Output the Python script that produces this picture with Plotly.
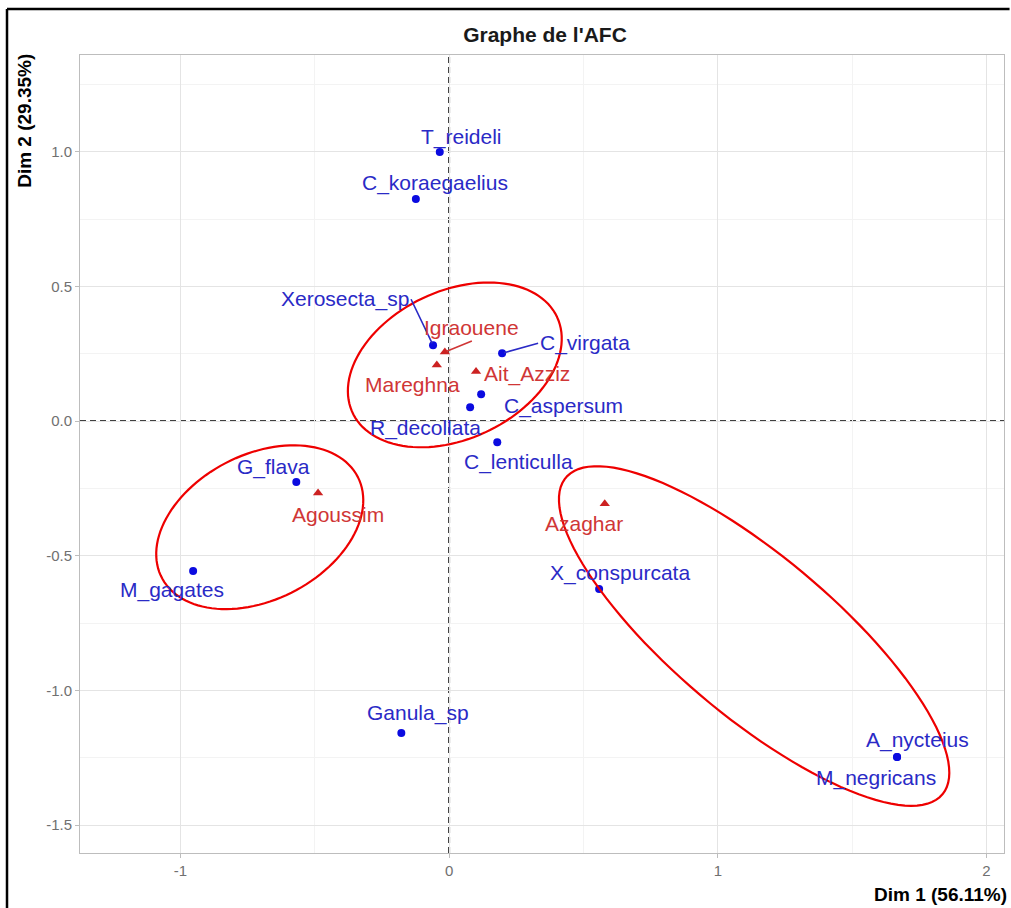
import numpy as np
import plotly.graph_objects as go

# ---------------- data ----------------
species = ["T_reideli", "C_koraegaelius", "Xerosecta_sp", "C_virgata", "C_aspersum",
           "R_decollata", "C_lenticulla", "G_flava", "M_gagates", "X_conspurcata",
           "Ganula_sp", "A_nycteius", "M_negricans"]
species_dim1 = [-0.035, -0.124, -0.060, 0.197, 0.119, 0.078, 0.179, -0.569, -0.953, 0.558,
                -0.178, 1.667, 1.667]
species_dim2 = [1.000, 0.825, 0.282, 0.252, 0.100, 0.052, -0.078, -0.226, -0.557, -0.623,
                -1.158, -1.247, -1.247]

sites = ["Igraouene", "Mareghna", "Ait_Azziz", "Agoussim", "Azaghar"]
site_dim1 = [-0.016, -0.046, 0.100, -0.488, 0.579]
site_dim2 = [0.257, 0.209, 0.184, -0.267, -0.307]

x_ticks = [-1, 0, 1, 2]
x_ticklabels = ["-1", "0", "1", "2"]
y_ticks = [-1.5, -1.0, -0.5, 0.0, 0.5, 1.0]
y_ticklabels = ["-1.5", "-1.0", "-0.5", "0.0", "0.5", "1.0"]

title_text = "Graphe de l'AFC"
xlab = "Dim 1 (56.11%)"
ylab = "Dim 2 (29.35%)"

# hand-drawn grouping ellipses (centre, semi-axes, tilt in degrees)
ellipse_cx = [0.021, -0.705, 1.135]
ellipse_cy = [0.209, -0.394, -0.798]
ellipse_a = [0.42, 0.41, 0.915]
ellipse_b = [0.275, 0.27, 0.297]
ellipse_angle = [25, 27, -40]

# ---------------- styling ----------------
FONT = "Liberation Sans, Arial, sans-serif"
BLUE_PT = "#0b0be0"
BLUE_TXT = "#2a2ac6"
RED_PT = "#cc2222"
RED_TXT = "#d03636"
LABEL_SIZE = 21

# label offsets in px (dx right, dy up) for plain labels
plain_offsets = {
    "T_reideli": (22, 15), "C_koraegaelius": (19, 16), "C_aspersum": (82, -12),
    "R_decollata": (-45, -21), "C_lenticulla": (21, -20), "G_flava": (-23, 15),
    "M_gagates": (-21, -19), "X_conspurcata": (21, 16), "Ganula_sp": (17, 20),
    "A_nycteius": (20, 17), "M_negricans": (-21, -21),
    "Mareghna": (-24, -20), "Ait_Azziz": (51, -2), "Agoussim": (20, -21), "Azaghar": (-21, -20),
}
# labels with leader lines: (ax, ay, xanchor, yanchor)
arrow_offsets = {
    "Xerosecta_sp": (-22, -46, "right", "middle"),
    "C_virgata": (36, -10, "left", "middle"),
    "Igraouene": (27, -11, "center", "bottom"),
}

fig = go.Figure()

fig.add_trace(go.Scatter(x=species_dim1, y=species_dim2, mode="markers",
                         marker=dict(symbol="circle", size=8, color=BLUE_PT),
                         name="species", hoverinfo="text", text=species))
fig.add_trace(go.Scatter(x=site_dim1, y=site_dim2, mode="markers",
                         marker=dict(symbol="triangle-up", size=9, color=RED_PT),
                         name="sites", hoverinfo="text", text=sites))

annotations = []
for names, xs, ys, col in [(species, species_dim1, species_dim2, BLUE_TXT),
                           (sites, site_dim1, site_dim2, RED_TXT)]:
    for n, x, y in zip(names, xs, ys):
        if n in arrow_offsets:
            ax, ay, xa, ya = arrow_offsets[n]
            annotations.append(dict(x=x, y=y, xref="x", yref="y", text=n, showarrow=True,
                                    ax=ax, ay=ay, axref="pixel", ayref="pixel",
                                    xanchor=xa, yanchor=ya, arrowhead=0, arrowwidth=1.6,
                                    arrowcolor=col, standoff=2,
                                    font=dict(family=FONT, size=LABEL_SIZE, color=col)))
        else:
            dx, dy = plain_offsets[n]
            annotations.append(dict(x=x, y=y, xref="x", yref="y", text=n, showarrow=False,
                                    xshift=dx, yshift=dy, xanchor="center", yanchor="middle",
                                    font=dict(family=FONT, size=LABEL_SIZE, color=col)))

# axis titles
annotations.append(dict(text="<b>" + xlab + "</b>", xref="paper", yref="paper",
                        x=1.0054, y=-0.0526, xanchor="right", yanchor="middle",
                        showarrow=False, font=dict(family=FONT, size=19, color="black")))
annotations.append(dict(text="<b>" + ylab + "</b>", xref="paper", yref="paper",
                        x=-0.0595, y=1.004, xanchor="center", yanchor="top", textangle=-90,
                        showarrow=False, font=dict(family=FONT, size=19, color="black")))

shapes = []
# dashed reference lines
shapes.append(dict(type="line", xref="x", yref="paper", x0=0, x1=0, y0=0, y1=1,
                   line=dict(color="black", width=1.8, dash="6px,4px"), layer="between"))
shapes.append(dict(type="line", xref="paper", yref="y", x0=0, x1=1, y0=0, y1=0,
                   line=dict(color="black", width=1.8, dash="6px,4px"), layer="between"))

# ellipses
t = np.linspace(0, 2 * np.pi, 120)
for cx, cy, a, b, ang in zip(ellipse_cx, ellipse_cy, ellipse_a, ellipse_b, ellipse_angle):
    th = np.deg2rad(ang)
    ex = cx + a * np.cos(th) * np.cos(t) - b * np.sin(th) * np.sin(t)
    ey = cy + a * np.sin(th) * np.cos(t) + b * np.cos(th) * np.sin(t)
    path = "M " + " L ".join(f"{px:.4f},{py:.4f}" for px, py in zip(ex, ey)) + " Z"
    shapes.append(dict(type="path", path=path, xref="x", yref="y",
                       line=dict(color="#ee0000", width=2.2), layer="above"))

# outer frame (only the left and top edges are visible in the reference)
shapes.append(dict(type="line", xref="paper", yref="paper", x0=-0.0790, x1=-0.0790,
                   y0=-0.1, y1=1.0576, line=dict(color="black", width=2.5), layer="above"))
shapes.append(dict(type="line", xref="paper", yref="paper", x0=-0.0790, x1=1.006,
                   y0=1.0576, y1=1.0576, line=dict(color="black", width=2.5), layer="above"))

fig.update_layout(
    width=1011, height=908,
    margin=dict(l=80, r=7, t=55, b=55),
    paper_bgcolor="white", plot_bgcolor="white",
    showlegend=False,
    title=dict(text="<b>" + title_text + "</b>", x=545 / 1011, y=1 - 35 / 908,
               xref="container", yref="container", xanchor="center", yanchor="middle",
               font=dict(family=FONT, size=21, color="#1a1a1a")),
    annotations=annotations, shapes=shapes,
    font=dict(family=FONT),
)
fig.update_xaxes(range=[-1.374, 2.065], tickvals=x_ticks, ticktext=x_ticklabels,
                 showgrid=True, gridcolor="#e4e4e4", gridwidth=1, zeroline=False,
                 showline=True, linecolor="#bdbdbd", linewidth=1, mirror=True,
                 ticks="outside", ticklen=4, tickcolor="#bdbdbd",
                 tickfont=dict(family=FONT, size=15, color="#707070"),
                 minor=dict(dtick=0.5, tick0=0, showgrid=True, gridcolor="#f3f3f3", ticks=""))
fig.update_yaxes(range=[-1.604, 1.360], tickvals=y_ticks, ticktext=y_ticklabels,
                 showgrid=True, gridcolor="#e4e4e4", gridwidth=1, zeroline=False,
                 showline=True, linecolor="#bdbdbd", linewidth=1, mirror=True,
                 ticks="outside", ticklen=4, tickcolor="#bdbdbd",
                 tickfont=dict(family=FONT, size=15, color="#707070"),
                 minor=dict(dtick=0.25, tick0=0, showgrid=True, gridcolor="#f3f3f3", ticks=""))

fig.write_html("out.html", config={"displayModeBar": False},
               post_script="document.body.style.margin='0px';")
